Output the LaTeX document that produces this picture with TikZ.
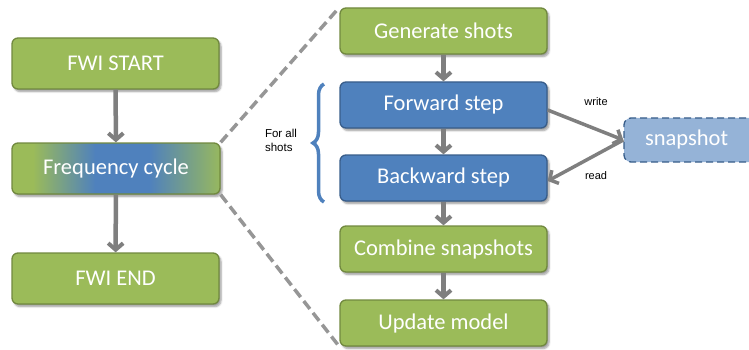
\documentclass[tikz,border=0pt]{standalone}
\usepackage{fontspec}
\setmainfont{Carlito}
\newfontfamily\labelfont{Liberation Sans}
\usetikzlibrary{arrows.meta,decorations.pathreplacing,shadows.blur}
\definecolor{gfill}{HTML}{9BBB59}
\definecolor{gline}{HTML}{71893F}
\definecolor{bfill}{HTML}{4F81BD}
\definecolor{bline}{HTML}{385D8A}
\definecolor{sfill}{HTML}{95B3D7}
\definecolor{arrowgray}{HTML}{7F7F7F}
\definecolor{dashgray}{HTML}{969696}
% green at both ends, blue in the middle
\pgfdeclarehorizontalshading{cycleshade}{100bp}{
  color(0bp)=(gfill); color(30bp)=(gfill); color(45bp)=(bfill);
  color(58bp)=(bfill); color(76bp)=(gfill); color(100bp)=(gfill)}
\tikzset{
  box/.style={draw, line width=1.3pt, rounded corners=6pt, minimum width=207pt,
    minimum height=46pt, inner sep=0pt, text=white, font=\fontsize{22.5}{24}\selectfont,
    blur shadow={shadow xshift=2pt, shadow yshift=-2.5pt, shadow blur steps=5, shadow opacity=40}},
  greenbox/.style={box, fill=gfill, draw=gline},
  bluebox/.style={box, fill=bfill, draw=bline},
  flow/.style={draw=arrowgray, line width=4.5pt, -{Straight Barb[length=6.5pt,width=15pt,line width=4pt]}},
  thin flow/.style={draw=arrowgray, line width=3.5pt, -{Straight Barb[length=6.5pt,width=15pt,line width=3.5pt]}},
  guide/.style={draw=dashgray, line width=3.5pt, dash pattern=on 10pt off 5pt},
  note/.style={font=\labelfont\fontsize{11}{13}\selectfont, text=black}
}
\begin{document}
\begin{tikzpicture}[x=1pt,y=-1pt]
  \useasboundingbox (0,0) rectangle (749,350);

  % outer loop
  \node[greenbox, minimum height=51pt] (start) at (115.5,63.5) {FWI START};
  \node[box, draw=gline, shading=cycleshade,
        minimum width=208pt, minimum height=51pt] (freq) at (116,168.5) {Frequency cycle};
  \node[greenbox, minimum height=51pt] (end) at (115.5,278.5) {FWI END};

  % inner loop over shots
  \node[greenbox] (gen) at (443.5,31) {Generate shots};
  \node[bluebox] (fwd) at (443.5,105) {Forward step};
  \node[bluebox] (bwd) at (443.5,178) {Backward step};
  \node[greenbox] (comb) at (443.5,249) {Combine snapshots};
  \node[greenbox] (upd) at (443.5,323) {Update model};

  % snapshot storage, running off the right edge
  \node[draw=bline, fill=sfill, line width=1.3pt, dash pattern=on 7pt off 4pt,
        rounded corners=7pt, minimum width=140pt, minimum height=44pt, inner sep=0pt,
        text=white, font=\fontsize{22.5}{24}\selectfont, text width=122pt, align=left]
        (snap) at (694,140) {\hspace{12pt}snapshot};

  % zoom guides from the frequency cycle to the inner loop
  \draw[guide] (freq.north east) -- (gen.north west);
  \draw[guide] (freq.south east) -- (upd.south west);

  % sequence arrows
  \draw[flow] (start) -- (freq);
  \draw[flow] (freq) -- (end);
  \draw[flow] (gen) -- (fwd);
  \draw[flow] (fwd) -- (bwd);
  \draw[flow] (bwd) -- (comb);
  \draw[flow] (comb) -- (upd);

  % snapshot traffic
  \coordinate (fwdout) at ([yshift=-5pt]fwd.east);
  \coordinate (bwdin) at ([yshift=-3pt]bwd.east);
  \draw[thin flow] (fwdout) -- (snap.west);
  \draw[thin flow] (snap.west) -- (bwdin);
  \node[note] (wlbl) at (596,102) {write};
  \node[note] (rlbl) at (596,176) {read};

  % bracket grouping the per-shot steps
  \draw[draw=bfill, line width=3.5pt, decorate,
        decoration={brace, amplitude=11pt, aspect=0.5}]
        (324,202) coordinate (bb) -- (324,84) coordinate (bt);
  \node[note, align=left, font=\labelfont\fontsize{11.5}{14}\selectfont] (shots) at (281,140) {For all\\shots};
\end{tikzpicture}
\end{document}
